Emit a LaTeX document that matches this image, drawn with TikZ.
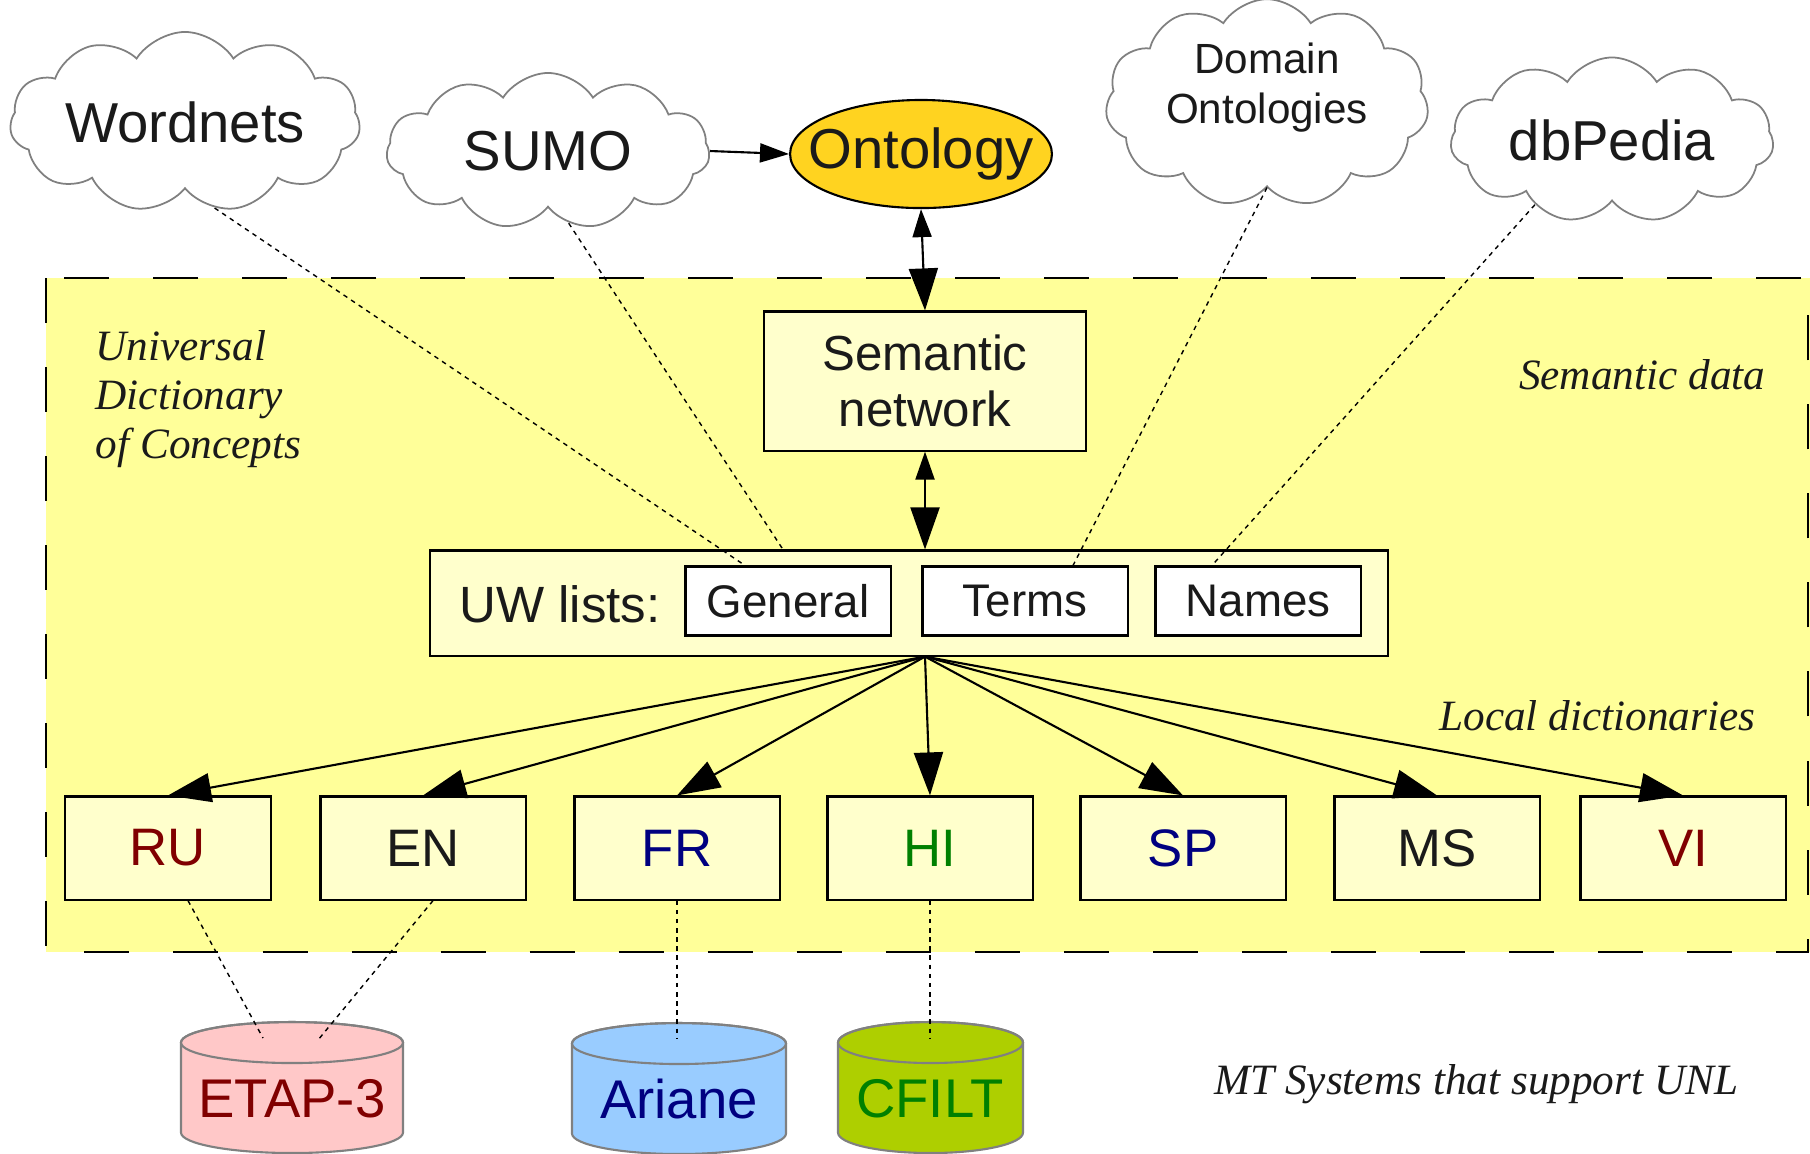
\documentclass[tikz,border=0pt]{standalone}
\usepackage{fontspec}
\setmainfont{Liberation Sans}
\newfontfamily\remarkfont{Liberation Serif}
\usetikzlibrary{shapes.geometric,shapes.symbols,arrows.meta}

\definecolor{zoneyellow}{HTML}{FFFF99}
\definecolor{paleyellow}{HTML}{FFFFCC}
\definecolor{ontogold}{HTML}{FFD320}
\definecolor{cloudgray}{HTML}{808080}
\definecolor{inkgray}{HTML}{1A1A1A}
\definecolor{rured}{HTML}{800000}
\definecolor{frblue}{HTML}{000080}
\definecolor{higreen}{HTML}{008000}
\definecolor{etappink}{HTML}{FFC8C8}
\definecolor{arianeblue}{HTML}{99CCFF}
\definecolor{cfiltgreen}{HTML}{AECF00}

% database drum: centre x, half width, y of top cap, fill
\newcommand{\drum}[4]{%
  \filldraw[fill=#4, draw=cloudgray, line width=0.6pt]
    (#1-#2,#3) -- (#1-#2,#3+90) arc[start angle=180, end angle=0, x radius=#2, y radius=20.5]
    -- (#1+#2,#3) arc[start angle=0, end angle=-180, x radius=#2, y radius=20.5] -- cycle;
  \draw[cloudgray, line width=0.6pt] (#1,#3) ellipse[x radius=#2, y radius=20.5];
}

\tikzset{
  cloudy/.style={cloud, cloud puffs=11, cloud puff arc=115, cloud ignores aspect,
    draw=cloudgray, fill=white, line width=0.5pt, inner sep=0pt,
    text=inkgray, font=\fontsize{16}{18}\selectfont},
  langbox/.style={draw, fill=paleyellow, line width=0.6pt, minimum width=2.05cm,
    minimum height=1.03cm, font=\fontsize{15}{18}\selectfont},
  listbox/.style={draw, fill=white, line width=0.6pt, minimum width=2.05cm,
    minimum height=0.69cm, text=inkgray, font=\fontsize{13}{15}\selectfont},
  drumlabel/.style={anchor=base, font=\fontsize{15.5}{18}\selectfont},
  dotline/.style={line width=0.4pt, dash pattern=on 1.3pt off 1.3pt},
  smallhead/.style={-{Triangle[length=2.9mm,width=1.9mm]}, line width=0.6pt},
  fanarrow/.style={-{Triangle[length=4.3mm,width=2.9mm]}, line width=0.6pt},
  bothway/.style={{Triangle[length=2.8mm,width=1.9mm]}-{Triangle[length=4.2mm,width=2.9mm]}, line width=0.6pt},
  remark/.style={inner sep=0pt, text=inkgray, font=\remarkfont\itshape\fontsize{12.3}{14}\selectfont}
}

\begin{document}
\begin{tikzpicture}[x=0.01cm,y=-0.01cm]
  \useasboundingbox (0,0) rectangle (1810,1153);
  \fill[white] (0,0) rectangle (1810,1153);
  % dictionary zone
  \fill[zoneyellow] (46,278) rectangle (1810,952);
  \draw[line width=0.6pt, dash pattern=on 0.45cm off 0.44cm] (46,278) rectangle (1808,952);

  \node[remark, anchor=west, align=left] (udc) at (95,399) {Universal\\Dictionary\\of Concepts};
  \node[remark, anchor=east] (semdata) at (1766,375) {Semantic data};
  \node[remark, anchor=east] (localdict) at (1756,716) {Local dictionaries};
  \node[remark, anchor=east] (mtsys) at (1739,1084) {MT Systems that support UNL};

  % sources
  \node[cloudy, minimum width=3.5cm, minimum height=1.8cm] (wordnets) at (185,122) {Wordnets};
  \node[cloudy, minimum width=3.23cm, minimum height=1.56cm] (sumo) at (548,151) {SUMO};
  \node[cloudy, minimum width=3.23cm, minimum height=2.05cm, align=center, text depth=0.4cm,
    font=\fontsize{12}{14.2}\selectfont] (domain) at (1267,103) {Domain\\Ontologies};
  \node[cloudy, minimum width=3.23cm, minimum height=1.65cm] (dbpedia) at (1612,140) {dbPedia};

  \node[ellipse, draw, fill=ontogold, line width=0.6pt, minimum width=2.6cm,
    minimum height=1.08cm, inner xsep=-0.2cm, inner ysep=0pt, text=inkgray,
    font=\fontsize{16}{18}\selectfont] (ontology) at (921,154) {Ontology};

  \node[draw, fill=paleyellow, line width=0.6pt, minimum width=3.22cm, minimum height=1.39cm,
    align=center, text=inkgray, font=\fontsize{14}{16}\selectfont] (semantic) at (925,381) {Semantic\\network};

  \node[draw, fill=paleyellow, line width=0.6pt, minimum width=9.57cm, minimum height=1.05cm] (uw) at (909,603) {};
  \node[text=inkgray, font=\fontsize{14.5}{17}\selectfont] (uwlabel) at (560,604) {UW lists:};
  \node[listbox] (general) at (788,601) {General};
  \node[listbox] (terms) at (1025,601) {Terms};
  \node[listbox] (names) at (1258,601) {Names};

  % local dictionaries
  \node[langbox, text=rured] (ru) at (168,848) {RU};
  \node[langbox, text=inkgray] (en) at (423,848) {EN};
  \node[langbox, text=frblue] (fr) at (677,848) {FR};
  \node[langbox, text=higreen] (hi) at (930,848) {HI};
  \node[langbox, text=frblue] (sp) at (1183,848) {SP};
  \node[langbox, text=inkgray] (ms) at (1437,848) {MS};
  \node[langbox, text=rured] (vi) at (1683,848) {VI};

  % MT systems
  \drum{292}{111}{1042.5}{etappink}
  \drum{679}{107}{1043.5}{arianeblue}
  \drum{930.5}{92.5}{1042.5}{cfiltgreen}
  \node[drumlabel, text=rured] (etap) at (292,1117) {ETAP-3};
  \node[drumlabel, text=frblue] (ariane) at (679,1118) {Ariane};
  \node[drumlabel, text=higreen] (cfilt) at (930,1117) {CFILT};

  % arrows
  \draw[smallhead] (sumo.east) -- (ontology.west);
  \draw[bothway] (ontology.south) -- (semantic.north);
  \coordinate (fan) at (semantic.south |- uw.south);
  \draw[bothway] (semantic.south) -- (semantic.south |- uw.north);
  \foreach \lang in {ru,en,fr,hi,sp,ms,vi}
    \draw[fanarrow] (fan) -- (\lang.north);

  % dotted links
  \draw[dotline] (wordnets.-71) -- ([xshift=-0.43cm]general.north);
  \draw[dotline] (sumo.-74) -- ([xshift=-1.26cm]uw.north);
  \draw[dotline] (domain.south) -- ([xshift=0.48cm]terms.north);
  \draw[dotline] (dbpedia.220) -- ([xshift=-0.46cm]names.north);

  \coordinate (etapL) at (263,1038);
  \coordinate (etapR) at (318,1040);
  \coordinate (arianeT) at (677,1038);
  \coordinate (cfiltT) at (930,1038);
  \draw[dotline] ([xshift=0.2cm]ru.south) -- (etapL);
  \draw[dotline] ([xshift=0.1cm]en.south) -- (etapR);
  \draw[dotline] (fr.south) -- (arianeT);
  \draw[dotline] (hi.south) -- (cfiltT);
\end{tikzpicture}
\end{document}
